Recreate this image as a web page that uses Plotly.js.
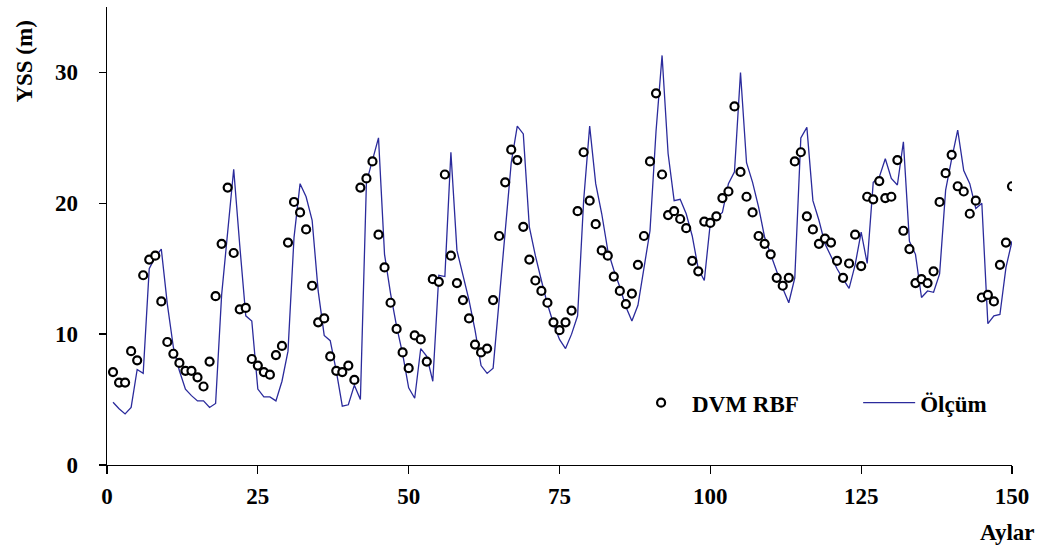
<!DOCTYPE html>
<html>
<head>
<meta charset="utf-8">
<script src="https://cdn.plot.ly/plotly-3.0.1.min.js"></script>
<style>
  html, body { margin: 0; padding: 0; background: #ffffff; }
  #chart { width: 1042px; height: 551px; }
</style>
</head>
<body>
<div id="chart"></div>
<script>
// Month index (Aylar)
const months = Array.from({length: 150}, (_, i) => i + 1);

// DVM RBF model output, YSS (m)
const dvmRbf = [
  7.1, 6.3, 6.3, 8.7, 8.0, 14.5, 15.7, 16.0, 12.5, 9.4,
  8.5, 7.8, 7.2, 7.2, 6.7, 6.0, 7.9, 12.9, 16.9, 21.2,
  16.2, 11.9, 12.0, 8.1, 7.6, 7.1, 6.9, 8.4, 9.1, 17.0,
  20.1, 19.3, 18.0, 13.7, 10.9, 11.2, 8.3, 7.2, 7.1, 7.6,
  6.5, 21.2, 21.9, 23.2, 17.6, 15.1, 12.4, 10.4, 8.6, 7.4,
  9.9, 9.6, 7.9, 14.2, 14.0, 22.2, 16.0, 13.9, 12.6, 11.2,
  9.2, 8.6, 8.9, 12.6, 17.5, 21.6, 24.1, 23.3, 18.2, 15.7,
  14.1, 13.3, 12.4, 10.9, 10.3, 10.9, 11.8, 19.4, 23.9, 20.2,
  18.4, 16.4, 16.0, 14.4, 13.3, 12.3, 13.1, 15.3, 17.5, 23.2,
  28.4, 22.2, 19.1, 19.4, 18.8, 18.1, 15.6, 14.8, 18.6, 18.5,
  19.0, 20.4, 20.9, 27.4, 22.4, 20.5, 19.3, 17.5, 16.9, 16.1,
  14.3, 13.7, 14.3, 23.2, 23.9, 19.0, 18.0, 16.9, 17.3, 17.0,
  15.6, 14.3, 15.4, 17.6, 15.2, 20.5, 20.3, 21.7, 20.4, 20.5,
  23.3, 17.9, 16.5, 13.9, 14.2, 13.9, 14.8, 20.1, 22.3, 23.7,
  21.3, 20.9, 19.2, 20.2, 12.8, 13.0, 12.5, 15.3, 17.0, 21.3
];

// Measured values (Ölçüm), YSS (m)
const olcum = [
  4.8, 4.3, 3.9, 4.4, 7.3, 7.0, 15.0, 15.9, 16.5, 12.3,
  9.0, 7.2, 5.8, 5.3, 4.9, 4.9, 4.4, 4.7, 13.0, 17.7,
  22.6, 16.8, 11.4, 11.0, 5.8, 5.2, 5.2, 4.9, 6.4, 8.7,
  17.4, 21.5, 20.5, 18.7, 13.3, 9.9, 9.5, 7.2, 4.5, 4.6,
  6.1, 5.0, 21.6, 23.3, 25.0, 16.1, 13.1, 10.6, 8.5, 5.9,
  5.1, 8.9, 8.3, 6.4, 14.5, 14.4, 23.9, 16.4, 14.5, 12.6,
  10.3, 7.6, 7.0, 7.4, 12.6, 17.7, 23.1, 25.9, 25.3, 18.2,
  16.0, 14.1, 12.3, 10.8, 9.6, 8.9, 10.0, 11.4, 20.2, 25.9,
  21.5, 19.2, 16.4, 14.9, 13.6, 12.1, 11.0, 12.2, 15.1, 17.9,
  25.5, 31.3, 23.8, 20.2, 20.3, 19.2, 17.5, 15.0, 14.1, 18.5,
  18.9, 19.3, 21.5, 22.4, 30.0, 23.1, 21.6, 19.7, 17.4, 16.1,
  14.8, 13.5, 12.4, 14.3, 25.0, 25.8, 20.2, 18.7, 16.9, 15.9,
  15.0, 14.2, 13.5, 15.3, 17.8, 15.4, 21.6, 22.0, 23.4, 21.9,
  21.4, 24.7, 17.1, 16.1, 12.8, 13.3, 13.2, 14.6, 21.0, 23.4,
  25.6, 22.5, 21.5, 19.6, 20.0, 10.8, 11.4, 11.5, 15.1, 17.1
];

// Axis ticks
const xTicks = [0, 25, 50, 75, 100, 125, 150];
const yTicks = [0, 10, 20, 30];

const serif = "'Liberation Serif', 'Times New Roman', serif";
const labelFont = { family: serif, size: 23, color: '#000000', weight: 'bold' };

const traces = [
  {
    x: months,
    y: olcum,
    type: 'scatter',
    mode: 'lines',
    name: 'Ölçüm',
    legend: 'legend2',
    line: { color: '#2b2b9c', width: 1.3 },
    hoverinfo: 'skip'
  },
  {
    x: months,
    y: dvmRbf,
    type: 'scatter',
    mode: 'markers',
    name: 'DVM RBF',
    legend: 'legend',
    marker: {
      symbol: 'circle',
      size: 8,
      color: '#ffffff',
      line: { color: '#000000', width: 2.2 }
    },
    hoverinfo: 'skip'
  }
];

// Two single-entry legends, laid out side by side under the curves
const legendBase = {
  orientation: 'h',
  xanchor: 'left',
  yanchor: 'middle',
  y: 0.136,
  font: labelFont,
  itemwidth: 52,
  bgcolor: 'rgba(0,0,0,0)',
  borderwidth: 0
};

const layout = {
  width: 1042,
  height: 551,
  margin: { l: 107, r: 30, t: 7, b: 86 },
  paper_bgcolor: '#ffffff',
  plot_bgcolor: '#ffffff',
  showlegend: true,
  legend: Object.assign({}, legendBase, { x: 0.578 }),
  legend2: Object.assign({}, legendBase, { x: 0.83 }),
  xaxis: {
    range: [0, 150],
    tickvals: xTicks,
    ticktext: xTicks.map(String),
    ticks: 'outside',
    ticklen: 8,
    tickwidth: 1.3,
    tickcolor: '#000000',
    showline: true,
    linecolor: '#000000',
    linewidth: 1.3,
    showgrid: false,
    zeroline: false,
    tickfont: labelFont,
    ticklabelstandoff: 2
  },
  yaxis: {
    range: [0, 35],
    tickvals: yTicks,
    ticktext: yTicks.map(String),
    ticks: 'outside',
    ticklen: 7,
    tickwidth: 1.3,
    tickcolor: '#000000',
    showline: true,
    linecolor: '#000000',
    linewidth: 1.3,
    showgrid: false,
    zeroline: false,
    tickfont: labelFont,
    ticklabelstandoff: 16
  },
  annotations: [
    {
      text: 'YSS (m)',
      xref: 'paper', yref: 'paper',
      x: -0.091, y: 0.88,
      xanchor: 'center', yanchor: 'middle',
      textangle: -90,
      showarrow: false,
      font: labelFont
    },
    {
      text: 'Aylar',
      xref: 'paper', yref: 'paper',
      x: 0.9945, y: -0.148,
      xanchor: 'center', yanchor: 'middle',
      showarrow: false,
      font: labelFont
    }
  ]
};

Plotly.newPlot('chart', traces, layout, { displayModeBar: false, staticPlot: true });
</script>
</body>
</html>
